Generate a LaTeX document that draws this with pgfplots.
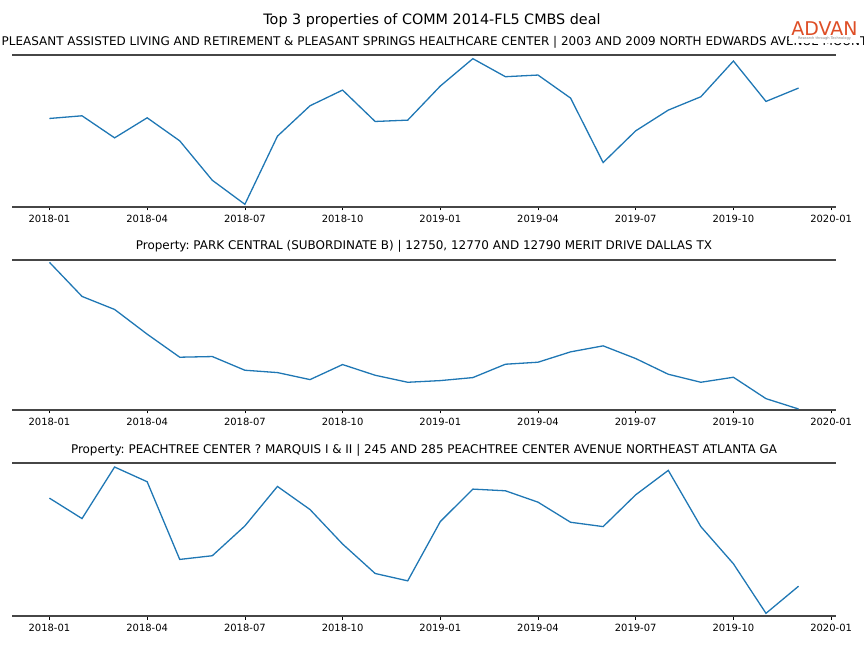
\documentclass[border=0pt]{standalone}
\usepackage{pgfplots}
\pgfplotsset{compat=1.18}
\usepackage{fontspec}
\setmainfont{DejaVu Sans}
\frenchspacing
\definecolor{mplblue}{HTML}{1F77B4}
\definecolor{spine}{RGB}{70,70,70}
\definecolor{advan}{RGB}{222,78,38}
\pgfplotsset{
  panel/.style={
    anchor=south west, width=824bp, scale only axis,
    xmin=-1.15, xmax=24.15,
    separate axis lines,
    x axis line style={draw=spine, line width=1.6bp},
    y axis line style={draw=none},
    ytick=\empty,
    xtick={0,3,6,9,12,15,18,21,24},
    xticklabels={2018-01,2018-04,2018-07,2018-10,2019-01,2019-04,2019-07,2019-10,2020-01},
    xtick pos=bottom, tick align=outside,
    major tick length=3.5bp,
    every tick/.style={draw=black, line width=0.6bp},
    xticklabel style={font=\fontsize{10}{12}\selectfont, yshift=-1bp},
    /pgf/number format/assume math mode=true,
    clip=false,
  },
  series/.style={mplblue, line width=1.3bp, mark=none},
}
\begin{document}
\begin{tikzpicture}
\useasboundingbox (0,0) rectangle (864bp,648bp);
\clip (0,0) rectangle (864bp,648bp);
% Panel 1
\begin{axis}[panel, at={(12bp,441bp)}, height=152bp, ymin=-470, ymax=-15]
\addplot[series] coordinates {(0,-205)(1,-197)(2,-263)(3,-203)(4,-272)(5,-390)(6,-462)(7,-258)(8,-167)(9,-120)(10,-214)(11,-210)(12,-108)(13,-26)(14,-80)(15,-75)(16,-144)(17,-337)(18,-242)(19,-180)(20,-140)(21,-33)(22,-154)(23,-114)};
\end{axis}
% Panel 2
\begin{axis}[panel, at={(12bp,238bp)}, height=150bp, ymin=-464, ymax=-15]
\addplot[series] coordinates {(0,-22)(1,-124)(2,-163)(3,-237)(4,-306)(5,-304)(6,-345)(7,-352)(8,-373)(9,-328)(10,-360)(11,-381)(12,-376)(13,-367)(14,-327)(15,-321)(16,-290)(17,-272)(18,-310)(19,-357)(20,-381)(21,-366)(22,-430)(23,-461)};
\end{axis}
% Panel 3
\begin{axis}[panel, at={(12bp,32bp)}, height=153bp, ymin=-472, ymax=-15]
\addplot[series] coordinates {(0,-120)(1,-181)(2,-27)(3,-71)(4,-303)(5,-292)(6,-203)(7,-85)(8,-154)(9,-257)(10,-345)(11,-367)(12,-190)(13,-93)(14,-98)(15,-132)(16,-192)(17,-205)(18,-110)(19,-37)(20,-205)(21,-316)(22,-464)(23,-383)};
\end{axis}
% titles
\node[font=\fontsize{14.4}{16}\selectfont] at (432bp,627bp) {Top 3 properties of COMM 2014-FL5 CMBS deal};
\node[font=\fontsize{12}{14}\selectfont] at (424bp,605.5bp) {Property: MOUNT PLEASANT ASSISTED LIVING AND RETIREMENT \& PLEASANT SPRINGS HEALTHCARE CENTER | 2003 AND 2009 NORTH EDWARDS AVENUE MOUNT PLEASANT TX};
\node[font=\fontsize{12}{14}\selectfont] at (424bp,401.5bp) {Property: PARK CENTRAL (SUBORDINATE B) | 12750, 12770 AND 12790 MERIT DRIVE DALLAS TX};
\node[font=\fontsize{12}{14}\selectfont] at (424bp,197.5bp) {Property: PEACHTREE CENTER ? MARQUIS I \& II | 245 AND 285 PEACHTREE CENTER AVENUE NORTHEAST ATLANTA GA};
% logo
\fill[white] (789bp,605bp) rectangle (860bp,633bp);
\node[font=\fontsize{19}{19}\selectfont, text=advan, inner sep=0pt] at (824.5bp,619.5bp) {ADVAN};
\node[font=\fontsize{3.6}{4}\selectfont, text=gray, inner sep=0pt] at (824.5bp,609.5bp) {Research through Technology};
\end{tikzpicture}
\end{document}
